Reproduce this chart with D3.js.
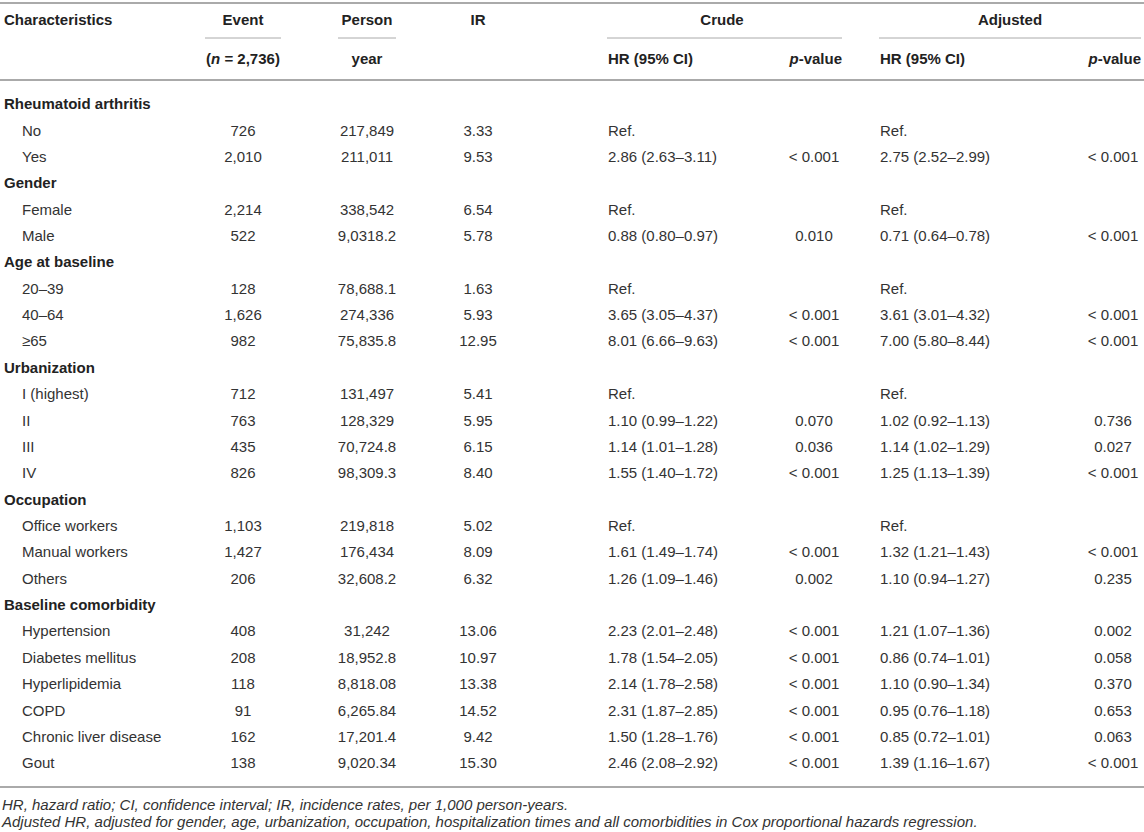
<!DOCTYPE html>
<html>
<head>
<meta charset="utf-8">
<script src="https://cdn.jsdelivr.net/npm/d3@7"></script>
<style>
  body { margin: 0; background: #fff; }
  svg text { font-family: "Liberation Sans", Arial, Helvetica, sans-serif; font-size: 15px; fill: #333; }
  .head { font-weight: bold; fill: #222; }
  .group { font-weight: bold; fill: #222; }
  .foot { font-style: italic; font-size: 15px; }
</style>
</head>
<body>
<svg width="1144" height="832"></svg>
<script>
// table contents
var groups = ['Rheumatoid arthritis', 'Gender', 'Age at baseline', 'Urbanization', 'Occupation', 'Baseline comorbidity'];
var rowGroup = [0, 0, 1, 1, 2, 2, 2, 3, 3, 3, 3, 4, 4, 4, 5, 5, 5, 5, 5, 5];
var rowLabels = ['No', 'Yes', 'Female', 'Male', '20–39', '40–64', '≥65', 'I (highest)', 'II', 'III', 'IV',
  'Office workers', 'Manual workers', 'Others', 'Hypertension', 'Diabetes mellitus', 'Hyperlipidemia',
  'COPD', 'Chronic liver disease', 'Gout'];
var events = ['726', '2,010', '2,214', '522', '128', '1,626', '982', '712', '763', '435', '826',
  '1,103', '1,427', '206', '408', '208', '118', '91', '162', '138'];
var personYears = ['217,849', '211,011', '338,542', '9,0318.2', '78,688.1', '274,336', '75,835.8', '131,497',
  '128,329', '70,724.8', '98,309.3', '219,818', '176,434', '32,608.2', '31,242', '18,952.8', '8,818.08',
  '6,265.84', '17,201.4', '9,020.34'];
var ir = ['3.33', '9.53', '6.54', '5.78', '1.63', '5.93', '12.95', '5.41', '5.95', '6.15', '8.40',
  '5.02', '8.09', '6.32', '13.06', '10.97', '13.38', '14.52', '9.42', '15.30'];
var crudeHR = ['Ref.', '2.86 (2.63–3.11)', 'Ref.', '0.88 (0.80–0.97)', 'Ref.', '3.65 (3.05–4.37)', '8.01 (6.66–9.63)',
  'Ref.', '1.10 (0.99–1.22)', '1.14 (1.01–1.28)', '1.55 (1.40–1.72)', 'Ref.', '1.61 (1.49–1.74)', '1.26 (1.09–1.46)',
  '2.23 (2.01–2.48)', '1.78 (1.54–2.05)', '2.14 (1.78–2.58)', '2.31 (1.87–2.85)', '1.50 (1.28–1.76)', '2.46 (2.08–2.92)'];
var crudeP = ['', '< 0.001', '', '0.010', '', '< 0.001', '< 0.001', '', '0.070', '0.036', '< 0.001', '',
  '< 0.001', '0.002', '< 0.001', '< 0.001', '< 0.001', '< 0.001', '< 0.001', '< 0.001'];
var adjHR = ['Ref.', '2.75 (2.52–2.99)', 'Ref.', '0.71 (0.64–0.78)', 'Ref.', '3.61 (3.01–4.32)', '7.00 (5.80–8.44)',
  'Ref.', '1.02 (0.92–1.13)', '1.14 (1.02–1.29)', '1.25 (1.13–1.39)', 'Ref.', '1.32 (1.21–1.43)', '1.10 (0.94–1.27)',
  '1.21 (1.07–1.36)', '0.86 (0.74–1.01)', '1.10 (0.90–1.34)', '0.95 (0.76–1.18)', '0.85 (0.72–1.01)', '1.39 (1.16–1.67)'];
var adjP = ['', '< 0.001', '', '< 0.001', '', '< 0.001', '< 0.001', '', '0.736', '0.027', '< 0.001', '',
  '< 0.001', '0.235', '0.002', '0.058', '0.370', '0.653', '0.063', '< 0.001'];
var footnotes = [
  'HR, hazard ratio; CI, confidence interval; IR, incidence rates, per 1,000 person-years.',
  'Adjusted HR, adjusted for gender, age, urbanization, occupation, hospitalization times and all comorbidities in Cox proportional hazards regression.'
];

var svg = d3.select('svg');
var lineColor = '#aaa';

// flatten groups + rows into the display order
var rows = [];
groups.forEach(function(g, gi) {
  rows.push({type: 'group', label: g});
  rowGroup.forEach(function(rg, i) {
    if (rg === gi) {
      rows.push({type: 'row', label: rowLabels[i], cells: [events[i], personYears[i], ir[i], crudeHR[i], crudeP[i], adjHR[i], adjP[i]]});
    }
  });
});

// column anchors: x and text-anchor
var cols = [
  {x: 243, anchor: 'middle'},
  {x: 367, anchor: 'middle'},
  {x: 478, anchor: 'middle'},
  {x: 608, anchor: 'start'},
  {x: 814, anchor: 'middle'},
  {x: 880, anchor: 'start'},
  {x: 1113, anchor: 'middle'}
];

var yScale = d3.scaleLinear()
  .domain([0, rows.length - 1])
  .range([104, 763]);

// rules
var rules = [
  {x1: 0, x2: 1144, y: 3, w: 2},
  {x1: 0, x2: 1144, y: 80, w: 2},
  {x1: 0, x2: 1144, y: 787, w: 2},
  {x1: 205, x2: 281, y: 38, w: 1},
  {x1: 338, x2: 396, y: 38, w: 1},
  {x1: 607, x2: 842, y: 38, w: 1},
  {x1: 879, x2: 1141, y: 38, w: 1}
];
svg.selectAll('line.rule')
  .data(rules)
  .enter()
  .append('line')
  .attr('class', 'rule')
  .attr('x1', d => d.x1)
  .attr('x2', d => d.x2)
  .attr('y1', d => d.y)
  .attr('y2', d => d.y)
  .style('stroke', lineColor)
  .style('stroke-width', d => d.w);

// header row 1
var head1 = [
  {t: 'Characteristics', x: 4, a: 'start'},
  {t: 'Event', x: 243, a: 'middle'},
  {t: 'Person', x: 367, a: 'middle'},
  {t: 'IR', x: 478, a: 'middle'},
  {t: 'Crude', x: 722, a: 'middle'},
  {t: 'Adjusted', x: 1010, a: 'middle'}
];
svg.selectAll('text.h1')
  .data(head1)
  .enter()
  .append('text')
  .attr('class', 'head h1')
  .attr('x', d => d.x)
  .attr('y', 20)
  .attr('dy', '0.35em')
  .attr('text-anchor', d => d.a)
  .text(d => d.t);

// header row 2 (with italic bits)
var head2 = [
  {parts: [['(', false], ['n', true], [' = 2,736)', false]], x: 243, a: 'middle'},
  {parts: [['year', false]], x: 367, a: 'middle'},
  {parts: [['HR (95% CI)', false]], x: 608, a: 'start'},
  {parts: [['p', true], ['-value', false]], x: 842, a: 'end'},
  {parts: [['HR (95% CI)', false]], x: 880, a: 'start'},
  {parts: [['p', true], ['-value', false]], x: 1141, a: 'end'}
];
var h2 = svg.selectAll('text.h2')
  .data(head2)
  .enter()
  .append('text')
  .attr('class', 'head h2')
  .attr('x', d => d.x)
  .attr('y', 59)
  .attr('dy', '0.35em')
  .attr('text-anchor', d => d.a);
h2.selectAll('tspan')
  .data(d => d.parts)
  .enter()
  .append('tspan')
  .style('font-style', p => p[1] ? 'italic' : 'normal')
  .text(p => p[0]);

// body rows
var rowG = svg.selectAll('g.row')
  .data(rows)
  .enter()
  .append('g')
  .attr('class', 'row')
  .attr('transform', (d, i) => 'translate(0,' + yScale(i) + ')');

rowG.append('text')
  .attr('class', d => d.type === 'group' ? 'group' : 'label')
  .attr('x', d => d.type === 'group' ? 4 : 22)
  .attr('dy', '0.35em')
  .text(d => d.label);

rowG.filter(d => d.type === 'row')
  .selectAll('text.cell')
  .data(d => d.cells)
  .enter()
  .append('text')
  .attr('class', 'cell')
  .attr('x', (c, j) => cols[j].x)
  .attr('text-anchor', (c, j) => cols[j].anchor)
  .attr('dy', '0.35em')
  .text(c => c);

// footnotes
svg.selectAll('text.foot')
  .data(footnotes)
  .enter()
  .append('text')
  .attr('class', 'foot')
  .attr('x', 2)
  .attr('y', (d, i) => 805 + i * 17)
  .attr('dy', '0.35em')
  .text(d => d);
</script>
</body>
</html>
